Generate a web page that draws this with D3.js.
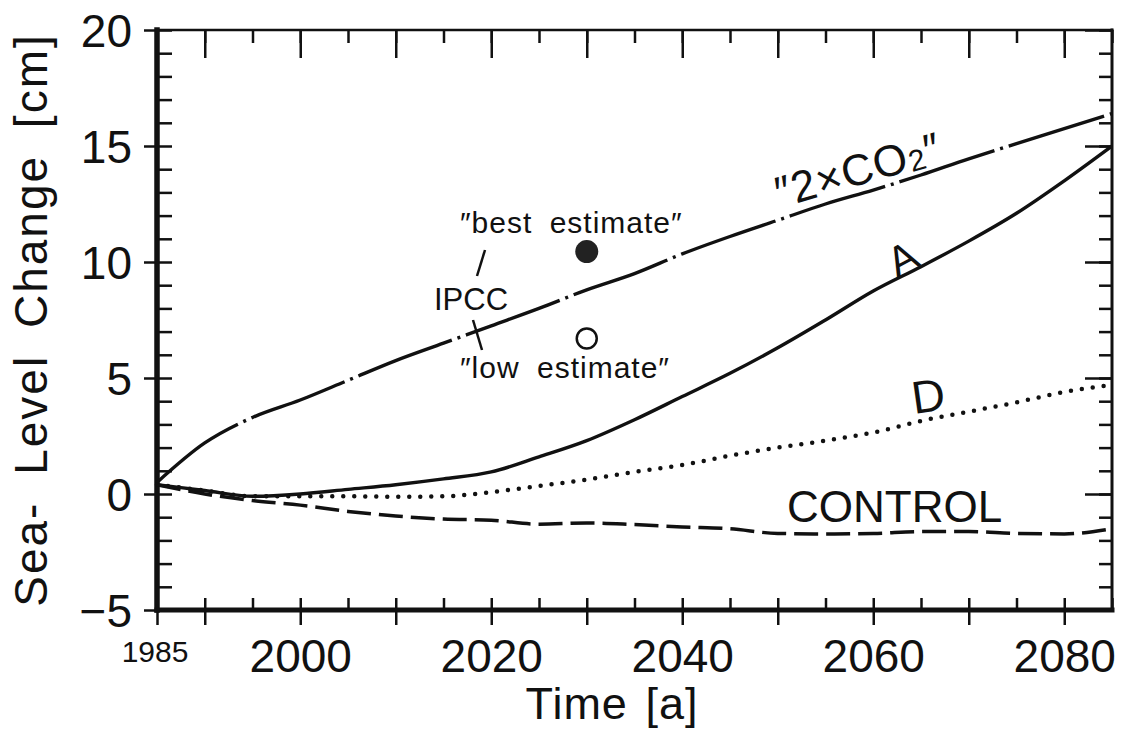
<!DOCTYPE html>
<html>
<head>
<meta charset="utf-8">
<script src="https://cdn.jsdelivr.net/npm/d3@7"></script>
<style>
  body { margin: 0; background: #fff; }
  svg text { font-family: "Liberation Sans", Arial, sans-serif; fill: #111; }
</style>
</head>
<body>
<svg id="chart"></svg>
<script>
// model years and sea-level change [cm]
const years = [1985, 1990, 1995, 2000, 2005, 2010, 2015, 2020, 2025, 2030, 2035,
               2040, 2045, 2050, 2055, 2060, 2065, 2070, 2075, 2080, 2085];
const co2x2 = [0.5, 2.2, 3.3, 4.05, 4.9, 5.75, 6.5, 7.25, 8.0, 8.8, 9.5,
               10.35, 11.1, 11.8, 12.5, 13.1, 13.75, 14.45, 15.1, 15.75, 16.4];
const runA = [0.4, 0.15, -0.1, 0.0, 0.2, 0.4, 0.65, 0.95, 1.6, 2.3, 3.2,
              4.2, 5.2, 6.3, 7.5, 8.75, 9.8, 10.9, 12.1, 13.5, 15.0];
const runD = [0.4, 0.15, -0.1, -0.1, -0.1, -0.12, -0.1, 0.08, 0.35, 0.62, 0.95,
              1.25, 1.65, 2.0, 2.3, 2.65, 3.15, 3.55, 3.95, 4.4, 4.7];
const control = [0.4, 0.0, -0.28, -0.48, -0.75, -0.95, -1.08, -1.13, -1.3, -1.25, -1.32,
                 -1.42, -1.5, -1.7, -1.72, -1.7, -1.62, -1.62, -1.7, -1.72, -1.5];
// IPCC estimates for 2030
const ipccYear = 2030;
const ipccBest = 10.45;
const ipccLow = 6.7;
// ticks
const xLabelTicks = [2000, 2020, 2040, 2060, 2080];
const yLabelTicks = [-5, 0, 5, 10, 15, 20];

const W = 1123, H = 733;
const svg = d3.select("#chart").attr("width", W).attr("height", H);

const x = d3.scaleLinear().domain([1985, 2085]).range([157, 1112]);
const y = d3.scaleLinear().domain([-5, 20]).range([610, 30]);

const xMinor = d3.range(1985, 2086, 5);
const xMajor = xMinor.filter(d => (d - 1980) % 10 === 0);
const yMinor = d3.range(-5, 21, 1);

function clean(g) {
  g.select(".domain").remove();
  g.selectAll(".tick line").attr("stroke", "#111").attr("stroke-width", 2.5);
}

// bottom axis: all ticks inward, 10-year ticks also outward
svg.append("g").attr("transform", `translate(0,${y(-5)})`)
  .call(d3.axisBottom(x).tickValues(xMinor).tickSize(-12).tickFormat(""))
  .call(clean);
svg.append("g").attr("transform", `translate(0,${y(-5)})`)
  .call(d3.axisBottom(x).tickValues(xMajor.concat([1985])).tickSize(15).tickFormat(""))
  .call(clean);
svg.append("g").attr("transform", `translate(0,${y(-5)})`)
  .call(d3.axisBottom(x).tickValues(xLabelTicks).tickSize(0).tickPadding(29).tickFormat(d3.format("d")))
  .call(clean)
  .selectAll("text").attr("font-size", 46).attr("font-family", "Liberation Sans").attr("fill", "#111");

// top axis
svg.append("g").attr("transform", `translate(0,${y(20)})`)
  .call(d3.axisTop(x).tickValues(xMinor).tickSize(-13).tickFormat(""))
  .call(clean);
svg.append("g").attr("transform", `translate(0,${y(20)})`)
  .call(d3.axisTop(x).tickValues(xMajor).tickSize(-28).tickFormat(""))
  .call(clean);

// left axis
svg.append("g").attr("transform", `translate(${x(1985)},0)`)
  .call(d3.axisLeft(y).tickValues(yMinor).tickSize(-15).tickFormat(""))
  .call(clean);
svg.append("g").attr("transform", `translate(${x(1985)},0)`)
  .call(d3.axisLeft(y).tickValues(yLabelTicks).tickSize(13).tickPadding(12)
    .tickFormat(d => d < 0 ? "\u2212" + Math.abs(d) : d))
  .call(clean)
  .selectAll("text").attr("font-size", 46).attr("font-family", "Liberation Sans").attr("fill", "#111")
  .attr("dy", "0.36em");

// right axis
svg.append("g").attr("transform", `translate(${x(2085)},0)`)
  .call(d3.axisRight(y).tickValues(yMinor).tickSize(-13).tickFormat(""))
  .call(clean);
svg.append("g").attr("transform", `translate(${x(2085)},0)`)
  .call(d3.axisRight(y).tickValues(yLabelTicks).tickSize(-27).tickFormat(""))
  .call(clean);

// frame
const frame = svg.append("g").attr("stroke", "#111").attr("stroke-linecap", "square");
frame.append("line").attr("x1", x(1985)).attr("x2", x(2085)).attr("y1", y(20)).attr("y2", y(20)).attr("stroke-width", 2.5);
frame.append("line").attr("x1", x(2085)).attr("x2", x(2085)).attr("y1", y(20)).attr("y2", y(-5)).attr("stroke-width", 3);
frame.append("line").attr("x1", x(1985)).attr("x2", x(2085)).attr("y1", y(-5)).attr("y2", y(-5)).attr("stroke-width", 5);
frame.append("line").attr("x1", x(1985)).attr("x2", x(1985)).attr("y1", y(20)).attr("y2", y(-5)).attr("stroke-width", 5.5);

// 1985 start label
svg.append("text").attr("x", x(1985) - 2).attr("y", 662)
  .attr("text-anchor", "middle").attr("font-size", 30).text("1985");

// axis titles
svg.append("text").attr("x", 612).attr("y", 719)
  .attr("text-anchor", "middle").attr("font-size", 45).attr("letter-spacing", 1).attr("word-spacing", 4)
  .text("Time [a]");
svg.append("text").attr("transform", "translate(47,320) rotate(-90)")
  .attr("text-anchor", "middle").attr("font-size", 46).attr("letter-spacing", 2).attr("word-spacing", 12)
  .text("Sea- Level Change [cm]");

// curves
const line = d3.line().x((d, i) => x(years[i])).y(d => y(d)).curve(d3.curveMonotoneX);
const curves = svg.append("g").attr("fill", "none").attr("stroke", "#111");

curves.append("path").attr("d", line(control))
  .attr("stroke-width", 3.5).attr("stroke-dasharray", "24,8");
curves.append("path").attr("d", line(runD))
  .attr("stroke-width", 4.5).attr("stroke-linecap", "round").attr("stroke-dasharray", "0,11");
curves.append("path").attr("d", line(runA))
  .attr("stroke-width", 3.4);
curves.append("path").attr("d", line(co2x2))
  .attr("stroke-width", 3.4).attr("stroke-dasharray", "100,6,3,6");

// IPCC points
svg.append("circle").attr("cx", x(ipccYear)).attr("cy", y(ipccBest)).attr("r", 11.5).attr("fill", "#222");
svg.append("circle").attr("cx", x(ipccYear)).attr("cy", y(ipccLow)).attr("r", 10)
  .attr("fill", "none").attr("stroke", "#111").attr("stroke-width", 2.5);

// IPCC annotation
svg.append("text").attr("x", 460).attr("y", 233).attr("font-size", 30).attr("letter-spacing", 1).attr("word-spacing", 8)
  .text("\u2033best estimate\u2033");
svg.append("text").attr("x", 434).attr("y", 310).attr("font-size", 31).text("IPCC");
svg.append("text").attr("x", 460).attr("y", 378).attr("font-size", 30).attr("letter-spacing", 1).attr("word-spacing", 8)
  .text("\u2033low estimate\u2033");
svg.append("line").attr("x1", 485).attr("y1", 250).attr("x2", 477).attr("y2", 276)
  .attr("stroke", "#111").attr("stroke-width", 2.5);
svg.append("line").attr("x1", 473).attr("y1", 320).attr("x2", 482).attr("y2", 350)
  .attr("stroke", "#111").attr("stroke-width", 2.5);

// curve labels
const co2Label = svg.append("text").attr("transform", "translate(780,208) rotate(-16)")
  .attr("font-size", 44).attr("letter-spacing", 1);
co2Label.append("tspan").text("\u2033" + "2\u00d7CO");
co2Label.append("tspan").attr("font-size", 30).attr("dy", 2).text("2");
co2Label.append("tspan").attr("dy", -2).text("\u2033");

svg.append("text").attr("transform", "translate(897,278) rotate(-28)")
  .attr("font-size", 42).text("A");
svg.append("text").attr("transform", "translate(914,414) rotate(-8)")
  .attr("font-size", 46).text("D");
svg.append("text").attr("x", 787).attr("y", 522)
  .attr("font-size", 44).text("CONTROL");
</script>
</body>
</html>
